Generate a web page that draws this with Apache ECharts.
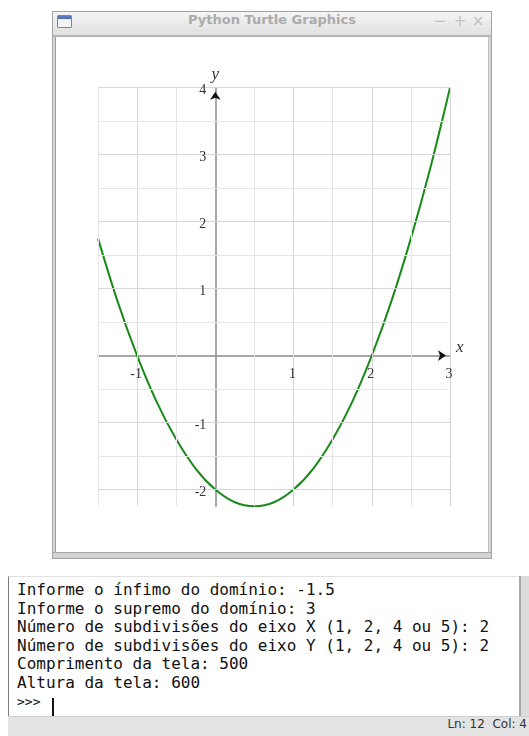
<!DOCTYPE html>
<html>
<head>
<meta charset="utf-8">
<script src="https://cdn.jsdelivr.net/npm/echarts@6/dist/echarts.min.js"></script>
<style>
  html, body { margin: 0; padding: 0; width: 529px; height: 736px; overflow: hidden; background: #fff; }
  .a { position: absolute; box-sizing: border-box; }
  #win { left: 52px; top: 11px; width: 440px; height: 548px; border: 1px solid #a2a2a2; background: #d6d6d6; }
  #titlebar { left: 53px; top: 12px; width: 438px; height: 23px; background: linear-gradient(#f5f5f5, #e0e0e0); }
  #titlesep { left: 53px; top: 35px; width: 438px; height: 2px; background: #b4b4b4; }
  #title { left: 53px; top: 12px; width: 438px; height: 23px; line-height: 23px; text-align: center;
           font: bold 13px "DejaVu Sans", sans-serif; color: #ababab; }
  #icon { left: 57px; top: 15px; width: 15px; height: 13px; border: 1px solid #7a86a0;
          background: linear-gradient(#5f7fbf 0, #4a6aa8 3px, #eef0f4 3px, #f6f6f6 100%); border-radius: 1px; }
  .btn { top: 12px; height: 23px; line-height: 23px; width: 14px; text-align: center;
         font: 15px "DejaVu Sans", sans-serif; color: #c2c2c2; }
  #canvasArea { left: 55px; top: 37px; width: 434px; height: 515px; background: #fff; border-left: 1px solid #9a9a9a; border-right: 1px solid #c4c4c4; }
  #bottomBar { left: 53px; top: 552px; width: 438px; height: 6px; background: #d2d2d2; border-top: 1px solid #a8a8a8; }
  #console { left: 8px; top: 576px; width: 511px; height: 140px; background: #fff;
             border-left: 1px solid #7c7c7c; border-top: 1px solid #e2e2e2; }
  #scroll { left: 519px; top: 576px; width: 10px; height: 140px; background: #dcdcdc; border-left: 2px solid #a9a9a9; }
  #text { left: 17px; top: 581px; font: 16px "DejaVu Sans Mono", monospace; line-height: 18.5px; color: #111; white-space: pre; }
  #prompt { font-size: 13px; }
  #cursor { left: 52px; top: 698px; width: 2px; height: 18px; background: #111; }
  #status { left: 8px; top: 716px; width: 521px; height: 20px; background: #e3e3e3; border-top: 1px solid #cfcfcf; }
  #statusText { right: 2px; top: 717px; height: 18px; line-height: 18px; font: 12px "DejaVu Sans", sans-serif; color: #333; white-space: pre; }
  #chart { left: 0; top: 0; width: 529px; height: 736px; }
</style>
</head>
<body>
<div class="a" id="win"></div>
<div class="a" id="titlebar"></div>
<div class="a" id="titlesep"></div>
<div class="a" id="title">Python Turtle Graphics</div>
<div class="a" id="icon"></div>
<div class="a btn" style="left:433px">−</div>
<div class="a btn" style="left:453px">+</div>
<div class="a btn" style="left:471px">×</div>
<div class="a" id="canvasArea"></div>
<div class="a" id="bottomBar"></div>

<div class="a" id="console"></div>
<div class="a" id="scroll"></div>
<div class="a" id="text">Informe o ínfimo do domínio: -1.5
Informe o supremo do domínio: 3
Número de subdivisões do eixo X (1, 2, 4 ou 5): 2
Número de subdivisões do eixo Y (1, 2, 4 ou 5): 2
Comprimento da tela: 500
Altura da tela: 600
<span id="prompt">&gt;&gt;&gt;</span></div>
<div class="a" id="cursor"></div>
<div class="a" id="status"></div>
<div class="a" id="statusText">Ln: 12  Col: 4</div>

<div class="a" id="chart"></div>

<script>
// Sampled points of the plotted curve
const curveX = [-1.5, -1.25, -1, -0.75, -0.5, -0.25, 0, 0.25, 0.5, 0.75, 1, 1.25, 1.5, 1.75, 2, 2.25, 2.5, 2.75, 3];
const curveY = [1.75, 0.81, 0, -0.69, -1.25, -1.69, -2, -2.19, -2.25, -2.19, -2, -1.69, -1.25, -0.69, 0, 0.81, 1.75, 2.81, 4];

// Axis ranges and labelled ticks
const xRange = [-1.5, 3];
const yRange = [-2.25, 4];
const xTickLabels = [-1, 1, 2, 3];
const yTickLabels = [-2, -1, 1, 2, 3, 4];

// Grid lines (integers are drawn a little darker than the half steps)
const xGridLines = [-1.5, -1, -0.5, 0.5, 1, 1.5, 2, 2.5, 3];
const yGridLines = [-2, -1.5, -1, -0.5, 0.5, 1, 1.5, 2, 2.5, 3, 3.5, 4];

const majorColor = '#d6d6d6';
const minorColor = '#e6e6e6';
const serif = '"Liberation Serif", "DejaVu Serif", serif';

const gridLineData = []
  .concat(xGridLines.map(v => ({ xAxis: v, lineStyle: { color: Number.isInteger(v) ? majorColor : minorColor } })))
  .concat(yGridLines.map(v => ({ yAxis: v, lineStyle: { color: Number.isInteger(v) ? majorColor : minorColor } })));

// Tick labels sit next to the axes that cross at the origin
const tickLabelStyle = { show: true, fontFamily: serif, fontSize: 14, color: '#333', formatter: p => String(p.value) };
const tickLabelData = []
  .concat(xTickLabels.map(v => ({ coord: [v, 0], value: v,
    label: Object.assign({}, tickLabelStyle, { position: 'bottom', distance: 11, offset: [-1, 1] }) })))
  .concat(yTickLabels.map(v => ({ coord: [0, v], value: v,
    label: Object.assign({}, tickLabelStyle, { position: 'left', distance: 9, offset: [0, 3] }) })));

const chart = echarts.init(document.getElementById('chart'), null, { renderer: 'canvas' });
chart.setOption({
  animation: false,
  grid: { left: 98, right: 79, top: 87.7, bottom: 229.7 },
  xAxis: {
    type: 'value', min: xRange[0], max: xRange[1], z: 2,
    axisLine: { show: true, onZero: true, lineStyle: { color: '#8a8a8a', width: 1.5 } },
    axisTick: { show: false },
    splitLine: { show: false },
    axisLabel: { show: false },
    name: 'x', nameLocation: 'end', nameGap: 6,
    nameTextStyle: { fontFamily: serif, fontStyle: 'italic', fontSize: 17, color: '#333', verticalAlign: 'bottom' }
  },
  yAxis: {
    type: 'value', min: yRange[0], max: yRange[1], z: 2,
    axisLine: { show: true, onZero: true, lineStyle: { color: '#8a8a8a', width: 1.5 } },
    axisTick: { show: false },
    splitLine: { show: false },
    axisLabel: { show: false },
    name: 'y', nameLocation: 'end', nameGap: 5,
    nameTextStyle: { fontFamily: serif, fontStyle: 'italic', fontSize: 17, color: '#333' }
  },
  series: [
    {
      type: 'line', z: 1, data: [], silent: true,
      markLine: { silent: true, symbol: 'none', label: { show: false },
        lineStyle: { type: 'solid', width: 1 }, emphasis: { disabled: true }, data: gridLineData }
    },
    {
      type: 'line', z: 3, smooth: 0.35, showSymbol: false, silent: true,
      data: curveX.map((x, i) => [x, curveY[i]]),
      lineStyle: { color: '#178a17', width: 2 }
    },
    {
      type: 'line', z: 4, data: [], silent: true,
      markPoint: {
        symbol: 'arrow', symbolSize: [8, 8], silent: true,
        itemStyle: { color: '#111' }, label: { show: false },
        data: [
          { coord: [xRange[1], 0], symbolRotate: -90, symbolOffset: [-4, 0] },
          { coord: [0, yRange[1]], symbolRotate: 0, symbolOffset: [0, 4] }
        ]
      }
    },
    {
      type: 'line', z: 5, data: [], silent: true,
      markPoint: {
        symbol: 'circle', symbolSize: 0, silent: true,
        itemStyle: { color: 'transparent' },
        data: tickLabelData
      }
    }
  ]
});
</script>
</body>
</html>
